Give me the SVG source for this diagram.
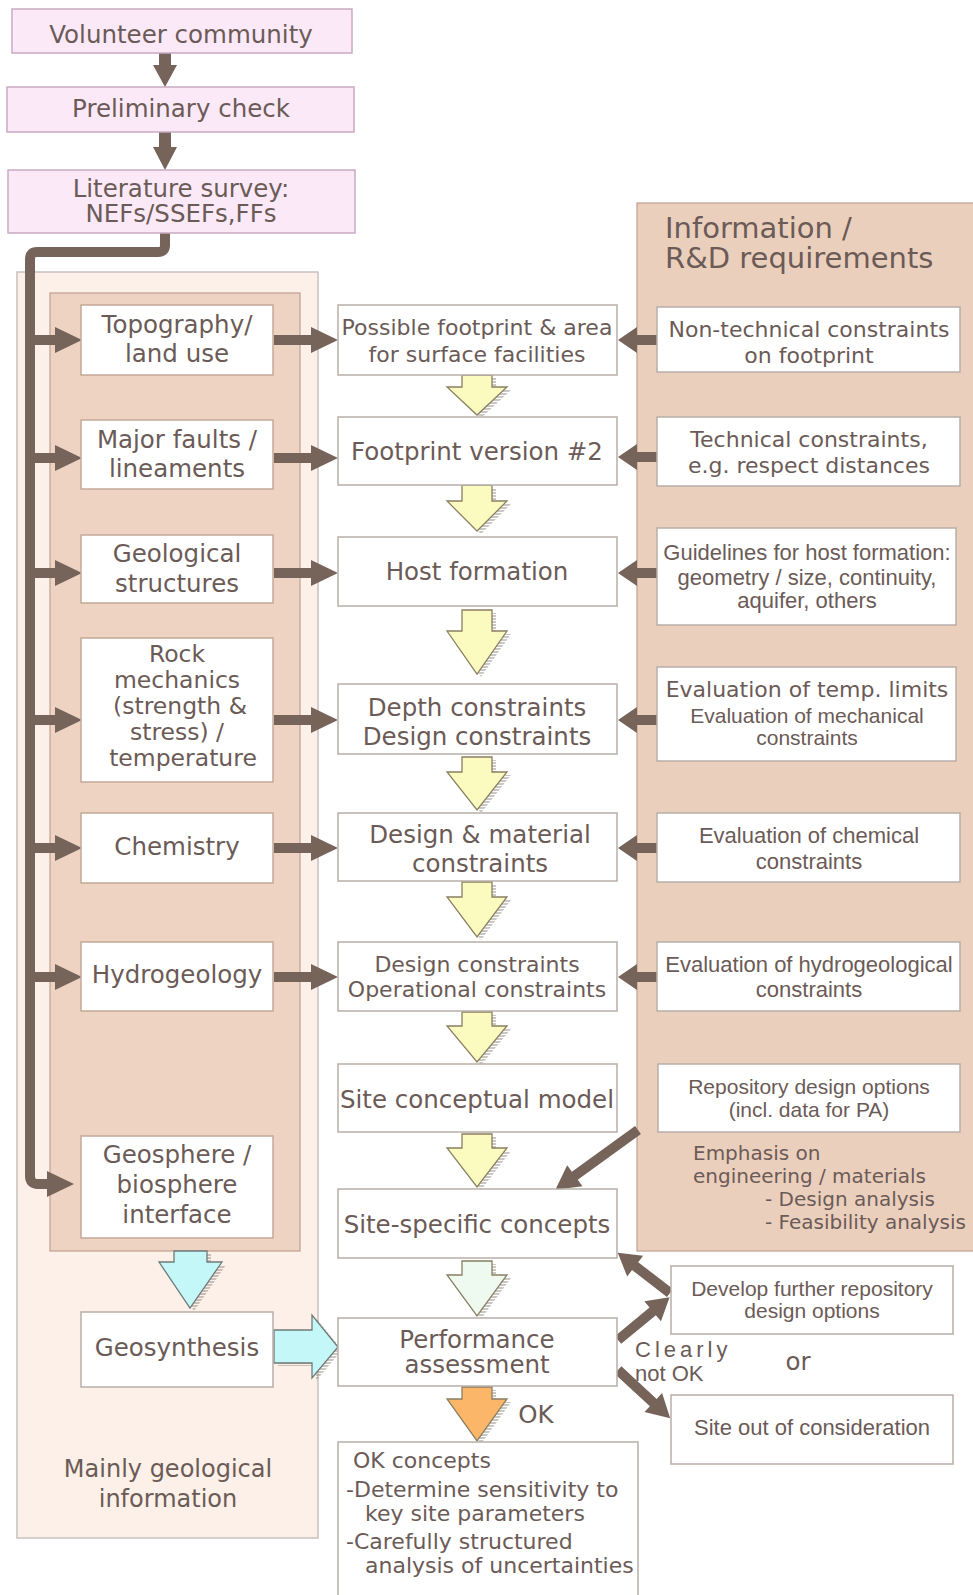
<svg xmlns="http://www.w3.org/2000/svg" width="973" height="1595" viewBox="0 0 973 1595">
<defs>
<pattern id="hatch" width="4" height="3" patternUnits="userSpaceOnUse">
<rect width="4" height="3" fill="none"/>
<line x1="0" y1="1" x2="4" y2="1" stroke="#8a8078" stroke-width="0.9"/>
</pattern>
<style>
text{font-family:"DejaVu Sans",Verdana,sans-serif;fill:#6b5b57;font-size:24.5px;text-anchor:middle}
.s{font-size:22px}
.e{font-size:20px;text-anchor:start}
.a{font-family:"Liberation Sans",Arial,sans-serif;font-size:22px}
.n{font-size:21px}
.r{font-size:23.5px}
.st{text-anchor:start}
.box{fill:#ffffff;stroke:#b8aea8;stroke-width:1.5}
.lbox{fill:#ffffff;stroke:#c4a898;stroke-width:1.5}
.pink{fill:#fce9f8;stroke:#c9aac2;stroke-width:1.5}
.br{fill:#76635a}
.yel{fill:#fcfbbf;stroke:#8a7f62;stroke-width:1.3}
.grn{fill:#eef9f0;stroke:#8a7f62;stroke-width:1.3}
.org{fill:#fcb66a;stroke:#8a7f62;stroke-width:1.3}
.cyn{fill:#c4f8f8;stroke:#707a78;stroke-width:1.3}
.sh{fill:url(#hatch)}
</style>
</defs>

<!-- background panels -->
<g id="panels">
<rect x="17" y="272" width="301" height="1266" fill="#fdf0e8" stroke="#c8c0c0" stroke-width="1.5"/>
<rect x="50" y="293" width="250" height="958" fill="#eed3c3" stroke="#c0a090" stroke-width="1.2"/>
<rect x="637" y="203" width="340" height="1048" fill="#ebcfbd" stroke="#c0a090" stroke-width="1.2"/>
<text class="st" x="665" y="238" style="font-size:29px">Information /</text>
<text class="st" x="665" y="268" style="font-size:29px">R&amp;D requirements</text>
<text x="168" y="1477" style="font-size:24px">Mainly geological</text>
<text x="168" y="1507" style="font-size:24px">information</text>
</g>

<!-- connectors -->
<g id="connectors">
<!-- top arrows -->
<path class="br" d="M159,53 H171 V65 H177 L165,87 L153,65 H159 Z"/>
<path class="br" d="M159,132 H171 V147 H177 L165,170 L153,147 H159 Z"/>
<!-- trunk -->
<path d="M165,233 V245 Q165,252 158,252 H37 Q30,252 30,259 V1176 Q30,1184 38,1184 H50" fill="none" stroke="#76635a" stroke-width="10"/>
<path class="br" d="M47,1171 L74,1184 L47,1197 Z"/>
<!-- left branches -->
<g class="br">
<path d="M30,335 H55 V327 L82,340 L55,353 V345 H30 Z"/>
<path d="M30,453 H55 V445 L82,458 L55,471 V463 H30 Z"/>
<path d="M30,568 H55 V560 L82,573 L55,586 V578 H30 Z"/>
<path d="M30,715 H55 V707 L82,720 L55,733 V725 H30 Z"/>
<path d="M30,843 H55 V835 L82,848 L55,861 V853 H30 Z"/>
<path d="M30,972 H55 V964 L82,977 L55,990 V982 H30 Z"/>
</g>
<!-- left boxes to middle -->
<g class="br">
<path d="M274,335 H311 V327 L338,340 L311,353 V345 H274 Z"/>
<path d="M274,453 H311 V445 L338,458 L311,471 V463 H274 Z"/>
<path d="M274,568 H311 V560 L338,573 L311,586 V578 H274 Z"/>
<path d="M274,715 H311 V707 L338,720 L311,733 V725 H274 Z"/>
<path d="M274,843 H311 V835 L338,848 L311,861 V853 H274 Z"/>
<path d="M274,972 H311 V964 L338,977 L311,990 V982 H274 Z"/>
</g>
<!-- right boxes to middle -->
<g class="br">
<path d="M658,335 H637 V327 L618,340 L637,353 V345 H658 Z"/>
<path d="M658,452 H637 V444 L618,457 L637,470 V462 H658 Z"/>
<path d="M658,568 H637 V560 L618,573 L637,586 V578 H658 Z"/>
<path d="M658,715 H637 V707 L618,720 L637,733 V725 H658 Z"/>
<path d="M658,843 H637 V835 L618,848 L637,861 V853 H658 Z"/>
<path d="M658,972 H637 V964 L618,977 L637,990 V982 H658 Z"/>
</g>
<!-- diagonal arrows -->
<g class="br">
<path d="M0,-5 H78 V-13 L102,0 L78,13 V5 H0 Z" transform="translate(638 1130) rotate(144.1)"/>
<path d="M0,-5 H44 V-13 L66,0 L44,13 V5 H0 Z" transform="translate(670 1293) rotate(-142.4)"/>
<path d="M0,-5 H45 V-13 L67,0 L45,13 V5 H0 Z" transform="translate(618 1340) rotate(-39.6)"/>
<path d="M0,-5 H48 V-13 L71,0 L48,13 V5 H0 Z" transform="translate(618 1370) rotate(42.7)"/>
</g>
<!-- hollow flow arrows: shadows -->
<g class="sh" transform="translate(4 3)">
<path d="M462,375 H492 V387 H507 L477,415 L447,387 H462 Z"/>
<path d="M462,485 H492 V501 H507 L477,531 L447,501 H462 Z"/>
<path d="M462,610 H492 V631 H507 L477,674 L447,631 H462 Z"/>
<path d="M462,757 H492 V772 H507 L477,810 L447,772 H462 Z"/>
<path d="M462,882 H492 V897 H507 L477,937 L447,897 H462 Z"/>
<path d="M462,1012 H492 V1026 H507 L477,1062 L447,1026 H462 Z"/>
<path d="M462,1134 H492 V1148 H507 L477,1187 L447,1148 H462 Z"/>
<path d="M462,1261 H492 V1275 H507 L477,1316 L447,1275 H462 Z"/>
<path d="M462,1387 H492 V1399 H507 L477,1441 L447,1399 H462 Z"/>
<path d="M174,1251 H207 V1262 H222 L190,1308 L159,1262 H174 Z"/>
<path d="M274,1330 H312 V1315 L338,1347 L312,1378 V1363 H274 Z"/>
</g>
<path class="yel" d="M462,375 H492 V387 H507 L477,415 L447,387 H462 Z"/>
<path class="yel" d="M462,485 H492 V501 H507 L477,531 L447,501 H462 Z"/>
<path class="yel" d="M462,610 H492 V631 H507 L477,674 L447,631 H462 Z"/>
<path class="yel" d="M462,757 H492 V772 H507 L477,810 L447,772 H462 Z"/>
<path class="yel" d="M462,882 H492 V897 H507 L477,937 L447,897 H462 Z"/>
<path class="yel" d="M462,1012 H492 V1026 H507 L477,1062 L447,1026 H462 Z"/>
<path class="yel" d="M462,1134 H492 V1148 H507 L477,1187 L447,1148 H462 Z"/>
<path class="grn" d="M462,1261 H492 V1275 H507 L477,1316 L447,1275 H462 Z"/>
<path class="org" d="M462,1387 H492 V1399 H507 L477,1441 L447,1399 H462 Z"/>
<path class="cyn" d="M174,1251 H207 V1262 H222 L190,1308 L159,1262 H174 Z"/>
<path class="cyn" d="M274,1330 H312 V1315 L338,1347 L312,1378 V1363 H274 Z"/>
<text x="536" y="1423">OK</text>
<text class="a st" x="635" y="1357" style="letter-spacing:4px">Clearly</text>
<text class="a st" x="635" y="1381">not OK</text>
<text x="798" y="1370">or</text>
</g>

<!-- top pink nodes -->
<g id="n-volunteer"><rect class="pink" x="12" y="9" width="340" height="44"/><text x="181" y="43">Volunteer community</text></g>
<g id="n-preliminary"><rect class="pink" x="7" y="87" width="347" height="45"/><text x="181" y="117">Preliminary check</text></g>
<g id="n-literature"><rect class="pink" x="8" y="170" width="347" height="63"/><text x="181" y="197">Literature survey:</text><text x="181" y="222">NEFs/SSEFs,FFs</text></g>

<!-- left nodes -->
<g id="n-topo"><rect class="lbox" x="81" y="305" width="192" height="70"/><text x="177" y="333">Topography/</text><text x="177" y="362">land use</text></g>
<g id="n-faults"><rect class="lbox" x="81" y="420" width="192" height="69"/><text x="177" y="448">Major faults /</text><text x="177" y="477">lineaments</text></g>
<g id="n-geostruct"><rect class="lbox" x="81" y="535" width="192" height="68"/><text x="177" y="562">Geological</text><text x="177" y="592">structures</text></g>
<g id="n-rock"><rect class="lbox" x="81" y="638" width="192" height="144"/><text class="r" x="177" y="662">Rock</text><text class="r" x="177" y="688">mechanics</text><text class="r" x="180" y="714">(strength &amp;</text><text class="r" x="177" y="740">stress) /</text><text class="r" x="183" y="766">temperature</text></g>
<g id="n-chem"><rect class="lbox" x="81" y="813" width="192" height="70"/><text x="177" y="855">Chemistry</text></g>
<g id="n-hydro"><rect class="lbox" x="81" y="942" width="192" height="69"/><text x="177" y="983">Hydrogeology</text></g>
<g id="n-geosphere"><rect class="lbox" x="81" y="1136" width="192" height="102"/><text x="177" y="1163">Geosphere /</text><text x="177" y="1193">biosphere</text><text x="177" y="1223">interface</text></g>
<g id="n-geosynth"><rect class="box" x="81" y="1312" width="192" height="75"/><text x="177" y="1356">Geosynthesis</text></g>

<!-- middle nodes -->
<g id="n-footprint"><rect class="box" x="338" y="305" width="279" height="70"/><text class="s" x="477" y="335">Possible footprint &amp; area</text><text class="s" x="477" y="362">for surface facilities</text></g>
<g id="n-footprint2"><rect class="box" x="338" y="417" width="279" height="68"/><text x="477" y="460">Footprint version #2</text></g>
<g id="n-host"><rect class="box" x="338" y="537" width="279" height="69"/><text x="477" y="580">Host formation</text></g>
<g id="n-depth"><rect class="box" x="338" y="684" width="279" height="70"/><text x="477" y="716">Depth constraints</text><text x="477" y="745">Design constraints</text></g>
<g id="n-material"><rect class="box" x="338" y="813" width="279" height="68"/><text x="480" y="843">Design &amp; material</text><text x="480" y="872">constraints</text></g>
<g id="n-operational"><rect class="box" x="338" y="942" width="279" height="69"/><text class="s" x="477" y="972">Design constraints</text><text class="s" x="477" y="997">Operational constraints</text></g>
<g id="n-scm"><rect class="box" x="338" y="1064" width="279" height="68"/><text x="477" y="1108">Site conceptual model</text></g>
<g id="n-ssc"><rect class="box" x="338" y="1189" width="279" height="69"/><text x="477" y="1233">Site-specific concepts</text></g>
<g id="n-pa"><rect class="box" x="338" y="1318" width="279" height="68"/><text x="477" y="1348">Performance</text><text x="477" y="1373">assessment</text></g>
<g id="n-ok"><rect class="box" x="338" y="1442" width="300" height="160"/>
<text class="s st" x="353" y="1468">OK concepts</text>
<text class="s st" x="346" y="1497">-Determine sensitivity to</text>
<text class="s st" x="365" y="1521">key site parameters</text>
<text class="s st" x="346" y="1549">-Carefully structured</text>
<text class="s st" x="365" y="1573">analysis of uncertainties</text></g>

<!-- right nodes -->
<g id="n-nontech"><rect class="box" x="657" y="307" width="303" height="65"/><text class="s" x="809" y="337">Non-technical constraints</text><text class="s" x="809" y="363">on footprint</text></g>
<g id="n-tech"><rect class="box" x="657" y="417" width="303" height="69"/><text class="s" x="809" y="447">Technical constraints,</text><text class="s" x="809" y="473">e.g. respect distances</text></g>
<g id="n-guide"><rect class="box" x="657" y="528" width="299" height="97"/><text class="a" x="807" y="560">Guidelines for host formation:</text><text class="a" x="807" y="585">geometry / size, continuity,</text><text class="a" x="807" y="608">aquifer, others</text></g>
<g id="n-evtemp"><rect class="box" x="657" y="667" width="299" height="94"/><text class="s" x="807" y="697">Evaluation of temp. limits</text><text class="a n" x="807" y="723">Evaluation of mechanical</text><text class="a n" x="807" y="745">constraints</text></g>
<g id="n-evchem"><rect class="box" x="657" y="813" width="303" height="69"/><text class="a" x="809" y="843">Evaluation of chemical</text><text class="a" x="809" y="869">constraints</text></g>
<g id="n-evhydro"><rect class="box" x="657" y="942" width="303" height="69"/><text class="a" x="809" y="972">Evaluation of hydrogeological</text><text class="a" x="809" y="997">constraints</text></g>
<g id="n-repo"><rect class="box" x="658" y="1064" width="302" height="68"/><text class="a n" x="809" y="1094">Repository design options</text><text class="a n" x="809" y="1117">(incl. data for PA)</text></g>
<g id="n-emphasis">
<text class="e" x="693" y="1160">Emphasis on</text>
<text class="e" x="693" y="1183">engineering / materials</text>
<text class="e" x="765" y="1206">- Design analysis</text>
<text class="e" x="765" y="1229">- Feasibility analysis</text></g>
<g id="n-develop"><rect class="box" x="671" y="1266" width="282" height="68"/><text class="a n" x="812" y="1296">Develop further repository</text><text class="a n" x="812" y="1318">design options</text></g>
<g id="n-siteout"><rect class="box" x="671" y="1395" width="282" height="69"/><text class="a" x="812" y="1435">Site out of consideration</text></g>
</svg>
